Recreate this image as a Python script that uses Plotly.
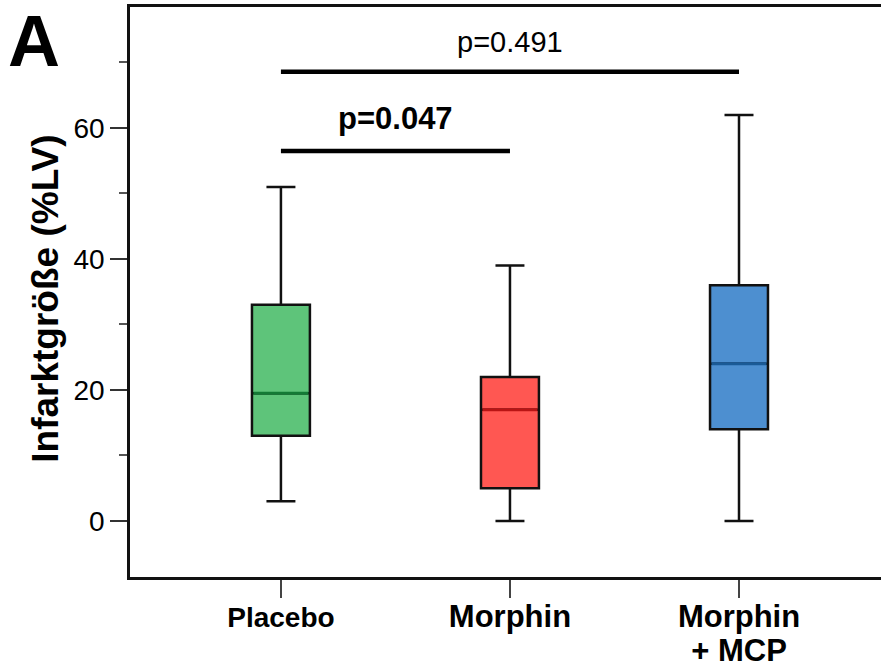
import plotly.graph_objects as go

# ---- data ----
categories = ["Placebo", "Morphin", "Morphin<br>+ MCP"]
q1 = [13.0, 5.0, 14.0]
median = [19.5, 17.0, 24.0]
q3 = [33.0, 22.0, 36.0]
lower = [3.0, 0.0, 0.0]
upper = [51.0, 39.0, 62.0]
fills = ["#5EC47A", "#FF5752", "#4D8FD0"]
median_colors = ["#137A35", "#B81414", "#1A5A96"]
tick_label_text = ["<span style='font-size:28px'>Placebo</span>",
                   "<span style='font-size:31px'>Morphin</span>",
                   "<span style='font-size:31px'>Morphin</span><br><span style='font-size:31px'>+ MCP</span>"]
y_ticks = [0, 20, 40, 60]
comparisons = [(0, 1, 56.5, "<b>p=0.047</b>", 61.4, 31),
               (0, 2, 68.6, "p=0.491", 73.2, 29)]

positions = list(range(len(categories)))
BOX_W = 0.253
FONT = "Liberation Sans, Arial, Helvetica, sans-serif"

fig = go.Figure()
for i, p in enumerate(positions):
    fig.add_trace(go.Box(
        x=[p], q1=[q1[i]], median=[median[i]], q3=[q3[i]],
        lowerfence=[lower[i]], upperfence=[upper[i]],
        width=BOX_W, whiskerwidth=0.5,
        fillcolor=fills[i], line=dict(color="#111111", width=2.5),
        showlegend=False, hoverinfo="skip", boxpoints=False))
    # coloured median line
    fig.add_trace(go.Box(
        x=[p], q1=[median[i]], median=[median[i]], q3=[median[i]],
        lowerfence=[median[i]], upperfence=[median[i]],
        width=BOX_W * 0.95, whiskerwidth=0.5,
        fillcolor="rgba(0,0,0,0)", line=dict(color=median_colors[i], width=3),
        showlegend=False, hoverinfo="skip", boxpoints=False))

for a, b, yline, label, ylab, fs in comparisons:
    fig.add_shape(type="line", xref="x", yref="y", x0=positions[a], x1=positions[b],
                  y0=yline, y1=yline, line=dict(color="black", width=4.5))
    fig.add_annotation(x=(positions[a] + positions[b]) / 2, y=ylab, xref="x", yref="y",
                       text=label, showarrow=False, yanchor="middle",
                       font=dict(family=FONT, size=fs, color="black"))

fig.add_annotation(x=-0.112, y=0.488, xref="paper", yref="paper", text="<b>Infarktgröße (%LV)</b>",
                   textangle=-90, showarrow=False, xanchor="center", yanchor="middle",
                   font=dict(family=FONT, size=37, color="black"))
fig.add_annotation(x=-0.128, y=0.94, xref="paper", yref="paper", text="<b>A</b>",
                   showarrow=False, xanchor="center", yanchor="middle",
                   font=dict(family=FONT, size=72, color="black"))

fig.update_layout(
    width=881, height=668,
    margin=dict(l=130, r=0, t=7, b=91, autoexpand=False),
    paper_bgcolor="white", plot_bgcolor="white",
    font=dict(family=FONT, color="black"),
    xaxis=dict(range=[-0.659, 2.62], tickmode="array", tickvals=positions, ticktext=[
        "<b>" + t + "</b>" for t in tick_label_text],
        automargin=False, ticklabelstandoff=-2,
        showline=True, mirror=True, linecolor="#111111", linewidth=2.5,
        ticks="outside", ticklen=18, tickwidth=2, tickcolor="#444444",
        tickfont=dict(family=FONT, size=26, color="black"),
        showgrid=False, zeroline=False),
    yaxis=dict(range=[-8.55, 78.47], tickmode="array", tickvals=y_ticks,
               automargin=False,
               showline=True, mirror=False, linecolor="#111111", linewidth=2.5,
               ticks="outside", ticklen=17, tickwidth=2, tickcolor="#333333",
               tickfont=dict(family=FONT, size=28, color="black"),
               minor=dict(tickvals=[10, 30, 50, 70], ticks="outside", ticklen=8,
                          tickwidth=2, tickcolor="#555555"),
               showgrid=False, zeroline=False),
)

fig.write_html("out.html", config={"displayModeBar": False},
               post_script="document.body.style.margin='0';document.body.style.padding='0';")
